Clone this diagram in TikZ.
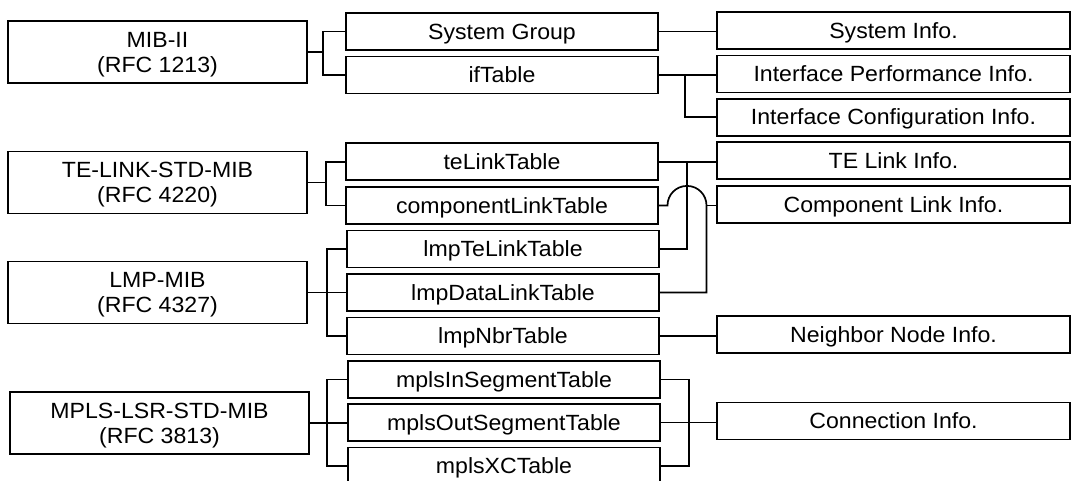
\documentclass[tikz,border=0pt]{standalone}
\usepackage{fontspec}
\setmainfont{Liberation Sans}[FakeStretch=1.05]
\usetikzlibrary{calc}
\begin{document}
\begin{tikzpicture}[x=1pt,y=-1pt,
  every node/.style={font=\fontsize{22}{25}\selectfont},
  mibbox/.style={draw, line width=1.7pt, inner sep=0pt, minimum width=299pt, minimum height=62pt,
    align=center, text height=40.5pt, text depth=0pt},
  tblbox/.style={draw, line width=1.7pt, inner sep=0pt, minimum width=312pt, minimum height=37pt,
    text height=15.5pt, text depth=0pt},
  infobox/.style={draw, line width=1.7pt, inner sep=0pt, minimum width=353pt, minimum height=37pt,
    text height=15.5pt, text depth=0pt},
  wire/.style={line width=1.7pt}]
\useasboundingbox (0,0) rectangle (1072,480);

% MIB modules
\node[mibbox] (mib)  at (157.5,52)    {MIB-II\\(RFC 1213)};
\node[mibbox] (te)   at (157.5,182.5) {TE-LINK-STD-MIB\\(RFC 4220)};
\node[mibbox] (lmp)  at (157.5,292.5) {LMP-MIB\\(RFC 4327)};
\node[mibbox] (mpls) at (159.5,423)   {MPLS-LSR-STD-MIB\\(RFC 3813)};

% tables
\node[tblbox] (sysg)    at (502,31.5)  {System Group};
\node[tblbox] (ift)     at (502,75)    {ifTable};
\node[tblbox] (tel)     at (502,161.8) {teLinkTable};
\node[tblbox] (comp)    at (502,205.4) {componentLinkTable};
\node[tblbox] (lmpte)   at (503,249)   {lmpTeLinkTable};
\node[tblbox] (lmpdata) at (503,292.4) {lmpDataLinkTable};
\node[tblbox] (nbr)     at (503,336)   {lmpNbrTable};
\node[tblbox] (mplsin)  at (504,379.5) {mplsInSegmentTable};
\node[tblbox] (mplsout) at (504,422.5) {mplsOutSegmentTable};
\node[tblbox] (mplsxc)  at (504,466)   {mplsXCTable};

% information groups
\node[infobox] (sysinfo)  at (893.5,30.8)  {System Info.};
\node[infobox] (perf)     at (893.5,74)    {Interface Performance Info.};
\node[infobox] (config)   at (893.5,117.2) {Interface Configuration Info.};
\node[infobox] (telinfo)  at (893.5,160.8) {TE Link Info.};
\node[infobox] (compinfo) at (893.5,204.6) {Component Link Info.};
\node[infobox] (nbrinfo)  at (893.5,334.6) {Neighbor Node Info.};
\node[infobox] (conninfo) at (893.5,421)   {Connection Info.};

% branch points
\coordinate (b1) at (323,52);
\coordinate (b2) at (326,182.5);
\coordinate (b3) at (327,292.5);
\coordinate (b4) at (327,423);

% module -> table brackets
\draw[wire] (mib.east) -- (b1);
\draw[wire] (sysg.west) -| (b1) |- (ift.west);
\draw[wire] (te.east) -- (b2);
\draw[wire] (tel.west) -| (b2) |- (comp.west);
\draw[wire] (lmp.east) -- (b3 -| lmpdata.west);
\draw[wire] (lmpte.west) -| (b3) |- (nbr.west);
\draw[wire] (mpls.east) -- (b4 -| mplsout.west);
\draw[wire] (mplsin.west) -| (b4) |- (mplsxc.west);

% table -> information brackets
\draw[wire] (sysg.east) -- (sysg.east -| sysinfo.west);
\draw[wire] (ift.east) -- (ift.east -| perf.west);
\coordinate (i1) at (685,75);
\draw[wire] (i1) |- (config.west);

\coordinate (t1) at (687,161.8);
\draw[wire] (tel.east) -- (tel.east -| telinfo.west);
\draw[wire] (t1) |- (lmpte.east);

% component link path hops over the vertical wire
\coordinate (h1) at (667.5,205.4);
\coordinate (h2) at (706.5,205.4);
\coordinate (ht) at (687,185.9);
\draw[wire] (comp.east) -- (h1)
  .. controls ($(h1)+(0,-10.8)$) and ($(ht)+(-10.8,0)$) .. (ht)
  .. controls ($(ht)+(10.8,0)$) and ($(h2)+(0,-10.8)$) .. (h2)
  |- (lmpdata.east);
\draw[wire] (h2) -- (h2 -| compinfo.west);

\draw[wire] (nbr.east) -- (nbr.east -| nbrinfo.west);

\coordinate (m1) at (689,379.5);
\draw[wire] (mplsin.east) -- (m1) |- (mplsxc.east);
\draw[wire] (mplsout.east) -- (mplsout.east -| conninfo.west);
\end{tikzpicture}
\end{document}
